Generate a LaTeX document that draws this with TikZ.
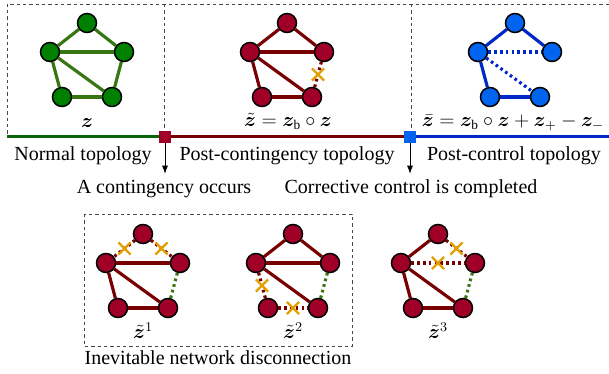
\documentclass[tikz,border=0pt]{standalone}
\usepackage{fontspec}
\setmainfont{Liberation Serif}
\usepackage{bm}
\usetikzlibrary{shapes.misc,arrows.meta}

\definecolor{grfill}{RGB}{0,128,0}
\definecolor{gredge}{RGB}{56,118,20}
\definecolor{grline}{RGB}{10,100,10}
\definecolor{rdfill}{RGB}{160,0,40}
\definecolor{rdedge}{RGB}{120,0,0}
\definecolor{blfill}{RGB}{0,100,240}
\definecolor{bledge}{RGB}{0,40,200}
\definecolor{cutmark}{RGB}{225,160,0}
\definecolor{framegray}{RGB}{70,70,70}

% five vertices of a pentagon-shaped grid: t, l, r, bl, br
\newcommand{\pentnodes}[4]{%
  \begin{scope}[shift={(#2,#3)}]
    \node[#4] (#1t)  at (0,0)    {};
    \node[#4] (#1l)  at (-37,29) {};
    \node[#4] (#1r)  at (37,29)  {};
    \node[#4] (#1bl) at (-25,74) {};
    \node[#4] (#1br) at (25,74)  {};
  \end{scope}}

\begin{document}
\begin{tikzpicture}[x=0.6pt,y=-0.6pt,
  font=\fontsize{12}{14}\selectfont,
  vertex/.style={circle, draw=black, line width=0.9pt, minimum size=11.4pt, inner sep=0pt},
  gv/.style={vertex, fill=grfill},
  rv/.style={vertex, fill=rdfill},
  bv/.style={vertex, fill=blfill},
  link/.style={line width=1.9pt},
  cutlink/.style={line width=1.9pt, dash pattern=on 1.6pt off 1.9pt},
  cutx/.style={cross out, solid, draw=cutmark, line width=1.3pt, minimum size=6pt, inner sep=0pt},
  frame/.style={draw=framegray, line width=0.5pt, dash pattern=on 2pt off 1.8pt},
  sqmark/.style={minimum size=7pt, inner sep=0pt},
  dropline/.style={line width=0.6pt, -{Latex[length=5pt,width=3.6pt]}},
  lbl/.style={anchor=base, inner sep=0pt}]

\useasboundingbox (0,0) rectangle (609,374);

% ---------- frames of the upper stage ----------
\coordinate (f0) at (7,4);
\coordinate (f1) at (609,4);
\coordinate (f2) at (7,137);
\coordinate (f3) at (164,4);
\coordinate (f4) at (164,131);
\coordinate (f5) at (411,4);
\coordinate (f6) at (411,131);
\draw[frame] (f1) -- (f0) -- (f2);
\draw[frame] (f3) -- (f4);
\draw[frame] (f5) -- (f6);

% ---------- normal topology ----------
\pentnodes{a}{87}{23}{gv}
\foreach \u/\v in {at/al, at/ar, al/ar, al/abl, al/abr, abl/abr, ar/abr}
  \draw[link, gredge] (\u) -- (\v);
\node[lbl] (la) at (87,128) {$\bm{z}$};

% ---------- post-contingency topology ----------
\pentnodes{b}{287}{23}{rv}
\foreach \u/\v in {bt/bl, bt/br, bl/br, bl/bbl, bl/bbr, bbl/bbr}
  \draw[link, rdedge] (\u) -- (\v);
\draw[cutlink, rdedge] (br) -- (bbr) node[cutx, midway] (bx) {};
\node[lbl] (lb) at (288,127) {$\tilde{\bm{z}} = \bm{z}_{\mathrm{b}} \circ \bm{z}$};

% ---------- post-control topology ----------
\pentnodes{c}{515}{23}{bv}
\foreach \u/\v in {ct/cl, ct/cr, cl/cbl, cbl/cbr}
  \draw[link, bledge] (\u) -- (\v);
\draw[cutlink, bledge] (cl) -- (cr);
\draw[cutlink, bledge] (cl) -- (cbr);
\node[lbl] (lc) at (513,127) {$\bar{\bm{z}} = \bm{z}_{\mathrm{b}} \circ \bm{z} + \bm{z}_{+} - \bm{z}_{-}$};

% ---------- time line ----------
\coordinate (t0) at (7,137);
\coordinate (t1) at (609,137);
\node[sqmark, fill=rdfill] (sa) at (165,137) {};
\node[sqmark, fill=blfill] (sb) at (410,137) {};
\draw[line width=1.8pt, grline] (t0) -- (sa.west);
\draw[line width=1.8pt, rdedge] (sa.east) -- (sb.west);
\draw[line width=1.8pt, bledge] (sb.east) -- (t1);

\node[lbl] (pa) at (83,161)  {Normal topology};
\node[lbl] (pb) at (287,161) {Post-contingency topology};
\node[lbl] (pc) at (514,161) {Post-control topology};

\coordinate (da) at (165,174);
\coordinate (db) at (410,174);
\draw[dropline] (sa.south) -- (da);
\draw[dropline] (sb.south) -- (db);
\node[lbl] (ea) at (164,194) {A contingency occurs};
\node[lbl] (eb) at (411,194) {Corrective control is completed};

% ---------- lower stage ----------
\coordinate (g0) at (84,214);
\coordinate (g1) at (352,346);
\draw[frame] (g0) rectangle (g1);
\node[lbl] (gl) at (218,365) {Inevitable network disconnection};

% first case
\pentnodes{d}{143}{234}{rv}
\foreach \u/\v in {dl/dr, dl/dbl, dl/dbr, dbl/dbr}
  \draw[link, rdedge] (\u) -- (\v);
\draw[cutlink, rdedge] (dt) -- (dl) node[cutx, midway] (dx1) {};
\draw[cutlink, rdedge] (dt) -- (dr) node[cutx, midway] (dx2) {};
\draw[cutlink, gredge] (dr) -- (dbr);
\node[lbl] (ld) at (143,339) {$\tilde{\bm{z}}^{1}$};

% second case
\pentnodes{e}{293}{234}{rv}
\foreach \u/\v in {et/el, et/er, el/er, el/ebr}
  \draw[link, rdedge] (\u) -- (\v);
\draw[cutlink, rdedge] (el) -- (ebl) node[cutx, midway] (ex1) {};
\draw[cutlink, rdedge] (ebl) -- (ebr) node[cutx, midway] (ex2) {};
\draw[cutlink, gredge] (er) -- (ebr);
\node[lbl] (le) at (293,339) {$\tilde{\bm{z}}^{2}$};

% third case
\pentnodes{h}{438}{234}{rv}
\foreach \u/\v in {ht/hl, hl/hbl, hl/hbr, hbl/hbr}
  \draw[link, rdedge] (\u) -- (\v);
\draw[cutlink, rdedge] (ht) -- (hr) node[cutx, midway] (hx1) {};
\draw[cutlink, rdedge] (hl) -- (hr) node[cutx, midway] (hx2) {};
\draw[cutlink, gredge] (hr) -- (hbr);
\node[lbl] (lh) at (438,339) {$\tilde{\bm{z}}^{3}$};

\end{tikzpicture}
\end{document}
